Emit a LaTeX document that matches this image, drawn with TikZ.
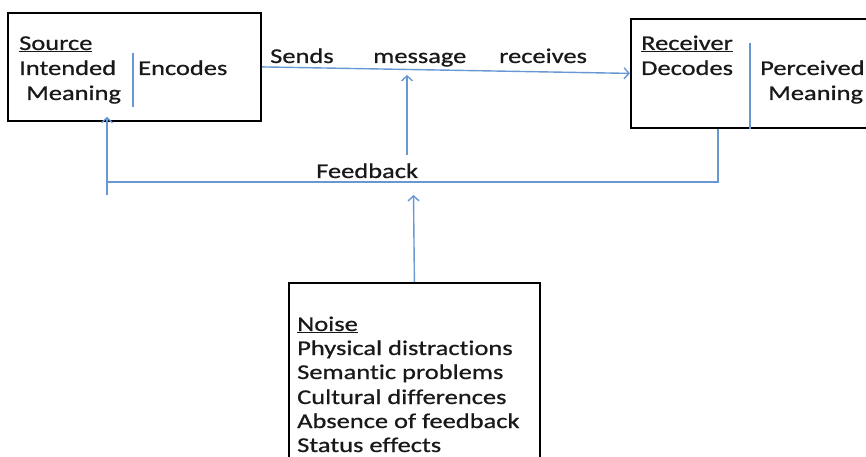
\documentclass[tikz,border=0pt]{standalone}
\usepackage{fontspec}
\setmainfont{Carlito}[FakeStretch=1.26, FakeBold=0.8, Ligatures=NoCommon]
\usetikzlibrary{arrows.meta}
\definecolor{linkblue}{RGB}{104,152,212}
\tikzset{
  box/.style={draw=black, line width=1.8pt, inner sep=0pt, minimum width=#1},
  label/.style={anchor=base west, inner sep=0pt, font=\fontsize{21}{24}\selectfont, text=black!90},
  link/.style={draw=linkblue, line width=1.4pt},
  linkarrow/.style={link, -{Straight Barb[length=5pt,width=11pt,line width=1.4pt]}},
}
\begin{document}
\begin{tikzpicture}[x=1pt,y=-1pt]
\useasboundingbox (0,0) rectangle (866,457);
\clip (0,0) rectangle (866,457);

% boxes
\node[box=253pt, minimum height=108pt, anchor=north west] (src) at (7,12) {};
\node[box=260pt, minimum height=109pt, anchor=north west] (rcv) at (630,18) {};
\node[box=251pt, minimum height=200pt, anchor=north west] (noise) at (288,282) {};

% source contents
\node[label] (srcT) at (19,50) {\underline{Source}};
\node[label] (srcA) at (19,75) {Intended};
\node[label] (srcB) at (26,100) {Meaning};
\node[label] (enc) at (138,75) {Encodes};
\coordinate (srcDivTop) at (133,53);
\coordinate (srcDivBot) at (133,107);
\draw[link] (srcDivTop) -- (srcDivBot);

% receiver contents
\node[label] (rcvT) at (641,50) {\underline{Receiver}};
\node[label] (dec) at (641,75) {Decodes};
\node[label] (perc) at (760,75) {Perceived};
\node[label] (percB) at (768,100) {Meaning};
\coordinate (rcvDivTop) at (750,43);
\draw[link] (rcvDivTop) -- (rcvDivTop |- rcv.south);

% noise contents
\node[label] (nT) at (297,331) {\underline{Noise}};
\node[label] (n1) at (297,355) {Physical distractions};
\node[label] (n2) at (297,379) {Semantic problems};
\node[label] (n3) at (297,404) {Cultural differences};
\node[label] (n4) at (297,428) {Absence of feedback};
\node[label] (n5) at (297,452) {Status effects};

% message labels
\node[label] (sends) at (270,63) {Sends};
\node[label] (msg) at (373,63) {message};
\node[label] (recv) at (499,63) {receives};
\node[label] (fb) at (316,178) {Feedback};

% message line
\draw[linkarrow] (src.east) -- (rcv.west);

% feedback loop
\coordinate (fbOut) at ([xshift=88pt]rcv.south west);
\coordinate (fbCorner) at (107,182);
\coordinate (fbFoot) at (107,195);
\draw[link] (fbOut) |- (fbCorner);
\draw[linkarrow] (fbFoot) -- ([xshift=100pt,yshift=5pt]src.south west);

% feedback into the message
\coordinate (msgFoot) at (407,155);
\coordinate (msgTip) at (407,75);
\draw[linkarrow] (msgFoot) -- (msgTip);

% noise into the feedback
\coordinate (noiseTip) at (413.5,195);
\draw[linkarrow] (noise.north) -- (noiseTip);
\end{tikzpicture}
\end{document}
